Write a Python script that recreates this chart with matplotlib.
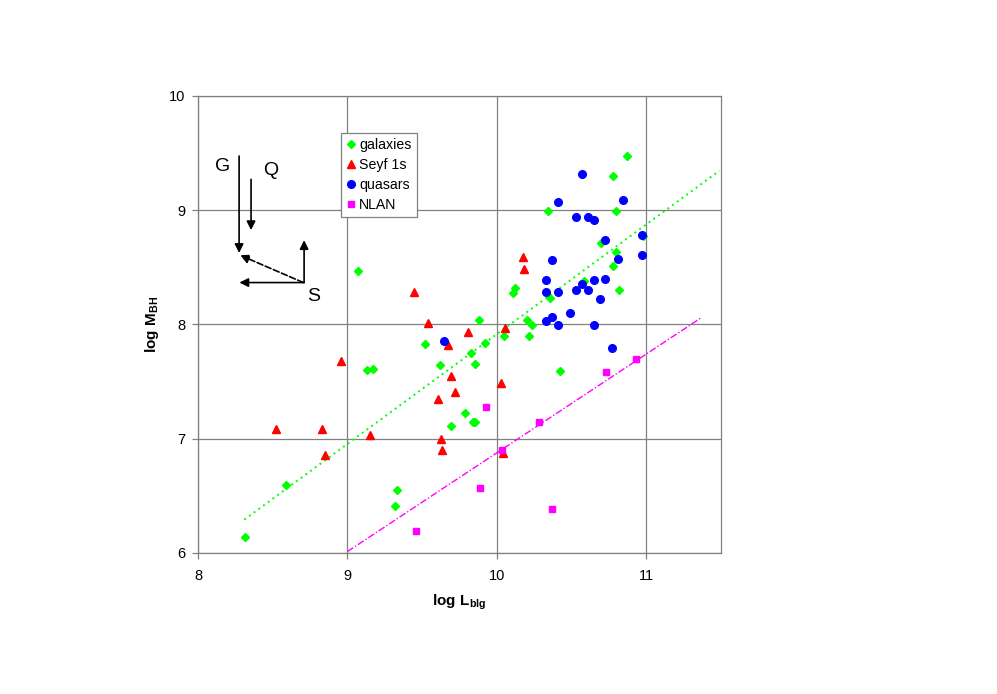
import matplotlib
matplotlib.use("Agg")
import numpy as np
import matplotlib.pyplot as plt

plt.rcParams['font.family'] = ['Liberation Sans', 'DejaVu Sans']
plt.rcParams['mathtext.fontset'] = 'custom'
plt.rcParams['mathtext.rm'] = 'Liberation Sans'
plt.rcParams['mathtext.bf'] = 'Liberation Sans:bold'

# galaxies (log L_blg, log M_BH)
gal_x = [8.315, 8.589, 9.073, 9.131, 9.169, 9.319, 9.334, 9.521, 9.617, 9.696,
         9.787, 9.825, 9.839, 9.856, 9.856, 9.879, 9.921, 10.05, 10.11, 10.12,
         10.20, 10.216, 10.236, 10.343, 10.354, 10.42, 10.58, 10.695, 10.78, 10.78,
         10.798, 10.80, 10.816, 10.869, 10.98]
gal_y = [6.14, 6.59, 8.47, 7.60, 7.61, 6.41, 6.55, 7.83, 7.64, 7.11,
         7.225, 7.75, 7.145, 7.145, 7.65, 8.04, 7.84, 7.90, 8.275, 8.32,
         8.04, 7.90, 7.996, 8.997, 8.23, 7.59, 8.38, 8.71, 8.515, 9.30,
         8.997, 8.63, 8.30, 9.476, 8.77]

# Seyfert 1s
sey_x = [8.522, 8.83, 8.85, 8.96, 9.149, 9.448, 9.54, 9.606, 9.627, 9.63,
         9.675, 9.691, 9.72, 9.805, 10.026, 10.044, 10.053, 10.178, 10.18]
sey_y = [7.08, 7.08, 6.86, 7.68, 7.035, 8.28, 8.01, 7.35, 6.995, 6.90,
         7.82, 7.55, 7.41, 7.93, 7.49, 6.87, 7.97, 8.59, 8.485]

# quasars
qso_x = [9.649, 10.57, 10.408, 10.847, 10.528, 10.608, 10.648, 10.726, 10.97, 10.97,
         10.37, 10.81, 10.33, 10.648, 10.726, 10.57, 10.33, 10.408, 10.528, 10.608,
         10.69, 10.488, 10.367, 10.33, 10.408, 10.648, 10.77]
qso_y = [7.857, 9.32, 9.07, 9.09, 8.936, 8.94, 8.91, 8.74, 8.78, 8.61,
         8.56, 8.57, 8.39, 8.39, 8.40, 8.35, 8.287, 8.287, 8.30, 8.30,
         8.22, 8.10, 8.06, 8.03, 7.99, 7.99, 7.795]

# NLAN
nlan_x = [9.457, 9.89, 9.93, 10.035, 10.285, 10.37, 10.73, 10.93]
nlan_y = [6.19, 6.57, 7.278, 6.90, 7.143, 6.383, 7.585, 7.70]

# trend lines: slope, intercept, x range
gal_fit = (0.961, -1.696, 8.31, 11.49)
nlan_fit = (0.865, -1.775, 9.0, 11.37)

fig = plt.figure(figsize=(9.97, 6.94), dpi=100)
ax = fig.add_axes([0.1986, 0.2036, 0.5246, 0.6581])

grey = '#808080'
ax.set_xlim(8, 11.5)
ax.set_ylim(6, 10)
ax.set_xticks([8, 9, 10, 11])
ax.set_yticks([6, 7, 8, 9, 10])
ax.grid(True, color=grey, lw=0.9)
ax.set_axisbelow(True)
for s in ax.spines.values():
    s.set_color(grey)
    s.set_linewidth(0.9)
ax.tick_params(direction='out', length=4, width=0.9, color=grey, labelsize=10.5)
ax.tick_params(axis='x', pad=8)
ax.tick_params(axis='y', pad=5)

# trend lines
xs = np.array(gal_fit[2:])
ax.plot(xs, gal_fit[0] * xs + gal_fit[1], color='#00ff00', ls=(0, (1, 2)), lw=1.4)
xs = np.array(nlan_fit[2:])
ax.plot(xs, nlan_fit[0] * xs + nlan_fit[1], color='#ff00ff', ls=(0, (5, 1.5, 1, 1.5)), lw=1.0)

ax.plot(gal_x, gal_y, 'D', color='#00ff00', ms=4.2, ls='none', label='galaxies')
ax.plot(sey_x, sey_y, '^', color='#ff0000', ms=5.5, ls='none', label='Seyf 1s')
ax.plot(qso_x, qso_y, 'o', color='#0000ff', ms=5.5, ls='none', label='quasars')
ax.plot(nlan_x, nlan_y, 's', color='#ff00ff', ms=5, ls='none', label='NLAN')

leg = ax.legend(loc='upper left', bbox_to_anchor=(0.273, 0.919), borderaxespad=0,
                fontsize=10.2, fancybox=False, framealpha=1, edgecolor=grey,
                handlelength=0.7, handletextpad=0.25, labelspacing=0.42,
                borderpad=0.35, numpoints=1)
leg.get_frame().set_linewidth(0.9)

ax.set_xlabel(r'$\mathbf{log\ L_{blg}}$', fontsize=11, labelpad=7)
ax.set_ylabel(r'$\mathbf{log\ M_{BH}}$', fontsize=11, labelpad=6)

# schematic arrows
arw = dict(arrowstyle='-|>', color='black', lw=1.2, mutation_scale=13, shrinkA=0, shrinkB=0)
ax.annotate('', xy=(8.275, 8.625), xytext=(8.275, 9.474), arrowprops=arw)
ax.annotate('', xy=(8.355, 8.825), xytext=(8.355, 9.27), arrowprops=arw)
ax.annotate('', xy=(8.71, 8.737), xytext=(8.71, 8.366), arrowprops=arw)
ax.annotate('', xy=(8.277, 8.366), xytext=(8.71, 8.366), arrowprops=arw)
ax.annotate('', xy=(8.282, 8.605), xytext=(8.705, 8.366),
            arrowprops=dict(arw, linestyle='--'))
ax.text(8.165, 9.386, 'G', fontsize=14, ha='center', va='center')
ax.text(8.487, 9.35, 'Q', fontsize=14, ha='center', va='center')
ax.text(8.777, 8.246, 'S', fontsize=14, ha='center', va='center')

fig.savefig('out.png', dpi=100, facecolor='white')
